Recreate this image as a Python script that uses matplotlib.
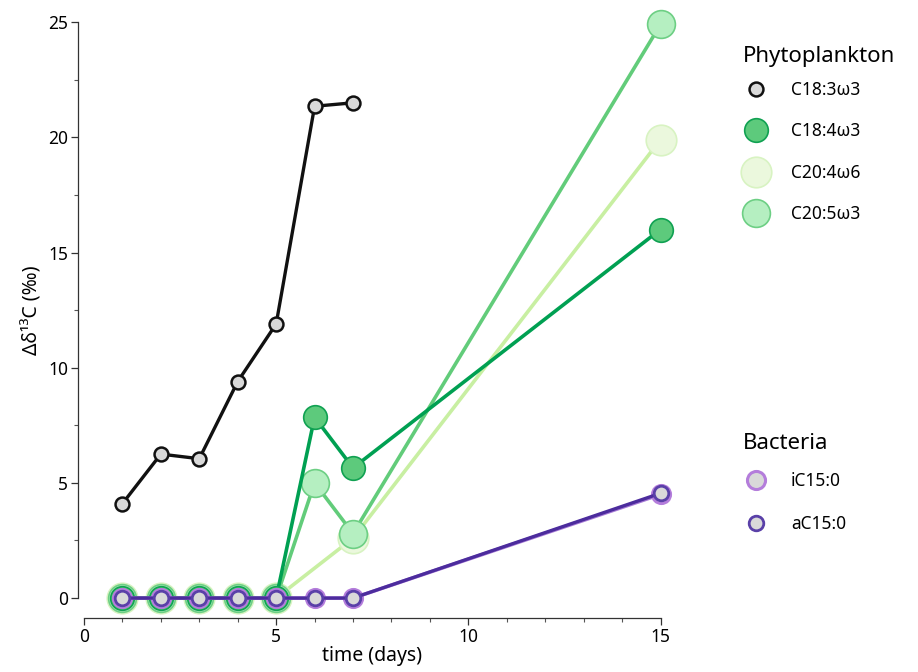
import matplotlib
matplotlib.use("Agg")
import matplotlib.pyplot as plt
from matplotlib.lines import Line2D
from matplotlib.ticker import MultipleLocator

plt.rcParams['font.family'] = ['Noto Sans', 'DejaVu Sans']

# data
days = [1, 2, 3, 4, 5, 6, 7, 15]
c183_days = [1, 2, 3, 4, 5, 6, 7]
c183 = [4.1, 6.25, 6.05, 9.4, 11.9, 21.35, 21.5]
c184 = [0, 0, 0, 0, 0, 7.85, 5.65, 16.0]
c204_days = [1, 2, 3, 4, 5, 7, 15]
c204 = [0, 0, 0, 0, 0, 2.6, 19.9]
c205 = [0, 0, 0, 0, 0, 5.0, 2.8, 24.9]
ic15 = [0, 0, 0, 0, 0, 0, 0, 4.5]
ac15 = [0, 0, 0, 0, 0, 0, 0, 4.55]

fig = plt.figure(figsize=(9.18, 6.72), dpi=100)
ax = fig.add_axes([0.0915, 0.110, 0.628, 0.857])

styles = {
    "C20:4ω6": dict(color="#c8efa2", mfc="#ebf8dd", mec="#d8f3c2", ms=22, lw=2.6, mew=1.2),
    "C20:5ω3": dict(color="#62cc7a", mfc="#b5efc1", mec="#6dcf84", ms=20, lw=2.6, mew=1.2),
    "C18:4ω3": dict(color="#00a052", mfc="#5dca7c", mec="#10a152", ms=17, lw=2.6, mew=1.2),
    "iC15:0": dict(color="#a77ad6", mfc="#d9d9d9", mec="#b47ddb", ms=13, lw=2.6, mew=2.2),
    "aC15:0": dict(color="#4c2c9d", mfc="#d9d9d9", mec="#5a40a8", ms=10.5, lw=2.4, mew=2.0),
    "C18:3ω3": dict(color="#111111", mfc="#d9d9d9", mec="#111111", ms=10, lw=2.4, mew=1.8),
}

series = [
    ("C20:4ω6", c204_days, c204),
    ("C20:5ω3", days, c205),
    ("C18:4ω3", days, c184),
    ("iC15:0", days, ic15),
    ("aC15:0", days, ac15),
    ("C18:3ω3", c183_days, c183),
]
for name, xs, ys in series:
    st = styles[name]
    ax.plot(xs, ys, marker="o", clip_on=False, zorder=3, **st)

ax.set_xlim(0, 15)
ax.set_ylim(0, 25)
ax.xaxis.set_major_locator(MultipleLocator(5))
ax.xaxis.set_minor_locator(MultipleLocator(1))
ax.yaxis.set_major_locator(MultipleLocator(5))
ax.yaxis.set_minor_locator(MultipleLocator(2.5))
for s in ["top", "right"]:
    ax.spines[s].set_visible(False)
ax.spines["left"].set_position(("outward", 4.5))
ax.spines["bottom"].set_position(("outward", 14.5))
for s in ["left", "bottom"]:
    ax.spines[s].set_color("#333333")
    ax.spines[s].set_linewidth(0.9)
ax.tick_params(which="major", length=5, width=0.9, color="#333333", labelsize=12.5, pad=2)
ax.tick_params(which="minor", length=3, width=0.8, color="#555555")
ax.set_xlabel("time (days)", fontsize=14, labelpad=0)
ax.set_ylabel("Δδ¹³C (‰)", fontsize=14, labelpad=4)


def handle(name):
    st = dict(styles[name])
    st.pop("lw")
    st.pop("color")
    return Line2D([], [], linestyle="none", marker="o", **st)


phyto = ["C18:3ω3", "C18:4ω3", "C20:4ω6", "C20:5ω3"]
fig.text(0.809, 0.916, "Phytoplankton", fontsize=16, va="center", ha="left")
fig.legend([handle(n) for n in phyto], phyto,
           loc="upper left", bbox_to_anchor=(0.805, 0.880), frameon=False,
           fontsize=12.5, labelspacing=1.36,
           handletextpad=1.0, borderaxespad=0, borderpad=0)

bact = ["iC15:0", "aC15:0"]
fig.text(0.809, 0.340, "Bacteria", fontsize=16, va="center", ha="left")
fig.legend([handle(n) for n in bact], bact,
           loc="upper left", bbox_to_anchor=(0.805, 0.298), frameon=False,
           fontsize=12.5, labelspacing=1.48,
           handletextpad=1.0, borderaxespad=0, borderpad=0)

fig.savefig("out.png", dpi=100)
